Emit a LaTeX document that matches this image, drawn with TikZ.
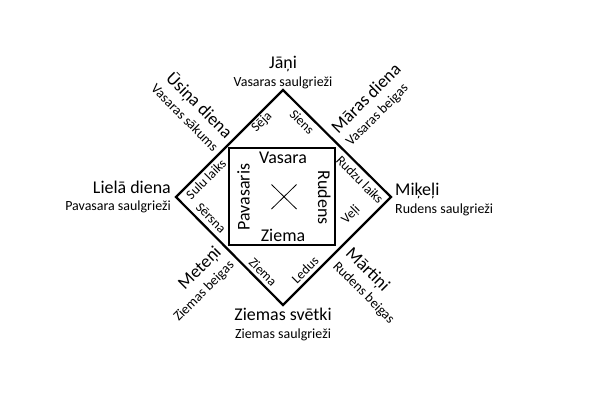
\documentclass[tikz,border=0pt]{standalone}
\usepackage{fontspec}
\setmainfont{Carlito}
\newcommand{\bigtxt}[1]{{\fontsize{18}{18}\selectfont #1}}
\begin{document}
\begin{tikzpicture}[x=1bp,y=-1bp,
  big/.style={font=\fontsize{18}{20}\selectfont, inner sep=0pt},
  small/.style={font=\fontsize{14}{16}\selectfont, inner sep=0pt},
  edgelbl/.style={font=\fontsize{13.5}{15}\selectfont, inner sep=0pt},
  duo/.style={font=\fontsize{14}{18}\selectfont, inner sep=0pt},
  frame/.style={line width=2.2bp, line join=miter}]
\path[use as bounding box] (0,0) rectangle (600,403);
% diamond
\coordinate (T) at (283,90);
\coordinate (R) at (391,197);
\coordinate (B) at (283,305);
\coordinate (L) at (176,197);
\draw[frame] (T) -- (R) -- (B) -- (L) -- cycle;
% inner square
\draw[frame] (229,148) rectangle (335,245);
% cross
\coordinate (c1) at (271.5,184.5);
\coordinate (c2) at (296.5,209);
\coordinate (c3) at (271.5,209);
\coordinate (c4) at (296.5,184.5);
\draw[line width=0.8bp] (c1) -- (c2) (c3) -- (c4);
% inner season words
\node[big, anchor=base] (vas) at (283,163) {Vasara};
\node[big, anchor=base] (zie) at (283,241) {Ziema};
\node[big, anchor=base, rotate=90] (pav) at (249.5,197) {Pavasaris};
\node[big, anchor=base, rotate=-90] (rud) at (318,197.5) {Rudens};
% cardinal labels
\node[big, anchor=base] (jani) at (283,68) {Jāņi};
\node[small, anchor=base] (jani2) at (283,86) {Vasaras saulgrieži};
\node[big, anchor=base east] (liela) at (171,193) {Lielā diena};
\node[small, anchor=base east] (liela2) at (171,210) {Pavasara saulgrieži};
\node[big, anchor=base west] (mik) at (395,195) {Miķeļi};
\node[small, anchor=base west] (mik2) at (395,213) {Rudens saulgrieži};
\node[big, anchor=base] (zs) at (283,320) {Ziemas svētki};
\node[small, anchor=base] (zs2) at (283,338) {Ziemas saulgrieži};
% diagonal outer labels
\node[duo, rotate=-45, anchor=east, align=right] (usina) at (224,141)
  {\bigtxt{Ūsiņa diena}\\Vasaras sākums};
\node[duo, rotate=45, anchor=west, align=left] (maras) at (341,137)
  {\bigtxt{Māras diena}\\Vasaras beigas};
\node[duo, rotate=45, anchor=east, align=right] (meteni) at (225,256)
  {\bigtxt{Meteņi}\\Ziemas beigas};
\node[duo, rotate=-45, anchor=west, align=left] (martini) at (342,257)
  {\bigtxt{Mārtiņi}\\Rudens beigas};
% edge labels
\node[edgelbl, rotate=45] (seja) at (262,122) {Sēja};
\node[edgelbl, rotate=-45] (siens) at (302,122) {Siens};
\node[edgelbl, rotate=45] (sulu) at (206,179) {Sulu laiks};
\node[edgelbl, rotate=-45] (sersna) at (211,218) {Sērsna};
\node[edgelbl, rotate=-45] (rudzu) at (360,180) {Rudzu laiks};
\node[edgelbl, rotate=45] (veli) at (351,215) {Veļi};
\node[edgelbl, rotate=-45] (ziema) at (263,272) {Ziema};
\node[edgelbl, rotate=45] (ledus) at (305,270) {Ledus};
\end{tikzpicture}
\end{document}
